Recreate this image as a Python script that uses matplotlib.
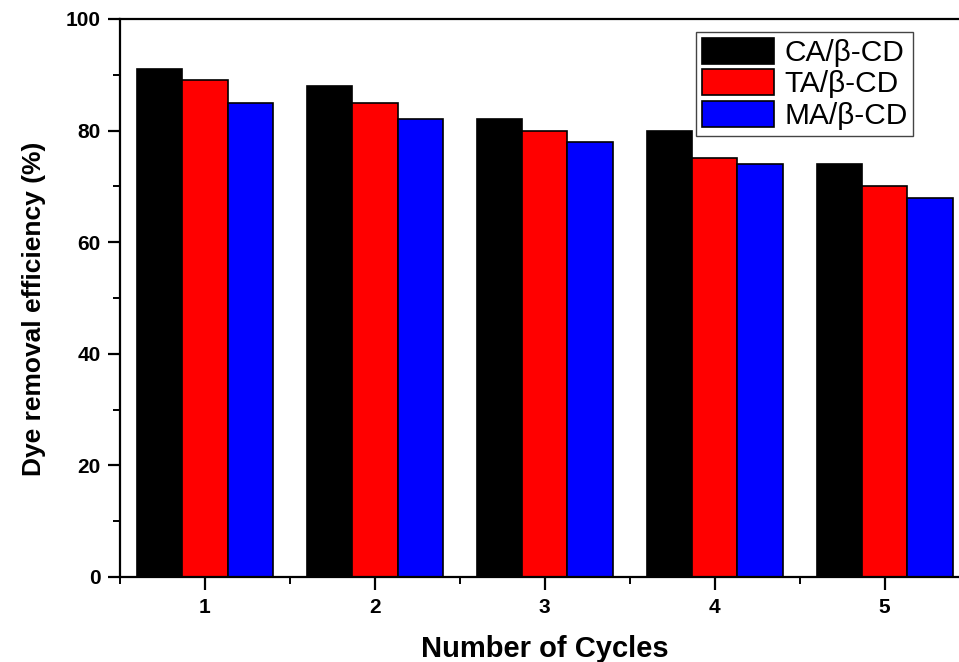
import numpy as np
import matplotlib
matplotlib.use("Agg")
import matplotlib.pyplot as plt
from matplotlib.ticker import MultipleLocator

plt.rcParams["font.family"] = ["Liberation Sans", "DejaVu Sans"]

cycles = [1, 2, 3, 4, 5]
ca_bcd = [91, 88, 82, 80, 74]
ta_bcd = [89, 85, 80, 75, 70]
ma_bcd = [85, 82, 78, 74, 68]
series = [("CA/β-CD", ca_bcd, "#000000"),
          ("TA/β-CD", ta_bcd, "#ff0000"),
          ("MA/β-CD", ma_bcd, "#0000ff")]

fig = plt.figure(figsize=(9.59, 6.62), dpi=100)
ax = fig.add_axes([0.1251, 0.1284, 0.886, 0.8429])

w = 0.8 / 3
x = np.array(cycles, dtype=float)
for i, (name, vals, col) in enumerate(series):
    ax.bar(x + (i - 1) * w, vals, width=w, color=col, edgecolor="black",
           linewidth=1.2, label=name)

ax.set_xlim(0.5, 5.5)
ax.set_ylim(0, 100)
ax.set_xticks(cycles)
ax.xaxis.set_minor_locator(MultipleLocator(0.5))
ax.yaxis.set_major_locator(MultipleLocator(20))
ax.yaxis.set_minor_locator(MultipleLocator(10))

for s in ["left", "bottom", "top"]:
    ax.spines[s].set_linewidth(1.6)
ax.spines["right"].set_visible(False)
ax.tick_params(which="major", direction="out", length=9, width=1.6,
               labelsize=15, pad=5)
ax.tick_params(which="minor", direction="out", length=5, width=1.4)
ax.tick_params(axis="x", which="major", pad=6)
for lab in ax.get_xticklabels() + ax.get_yticklabels():
    lab.set_fontweight("bold")

ax.set_xlabel("Number of Cycles", fontsize=21, fontweight="bold", labelpad=13)
ax.set_ylabel("Dye removal efficiency (%)", fontsize=19, fontweight="bold",
              labelpad=14, y=0.48)

leg = ax.legend(loc="upper left", bbox_to_anchor=(0.678, 0.977), fontsize=21.5,
                handlelength=2.4, handleheight=0.95, labelspacing=0.08,
                handletextpad=0.35, borderpad=0.2, borderaxespad=0,
                fancybox=False, framealpha=1)
leg.get_frame().set_edgecolor("#444444")
leg.get_frame().set_linewidth(1.0)

fig.savefig("out.png", dpi=100)
